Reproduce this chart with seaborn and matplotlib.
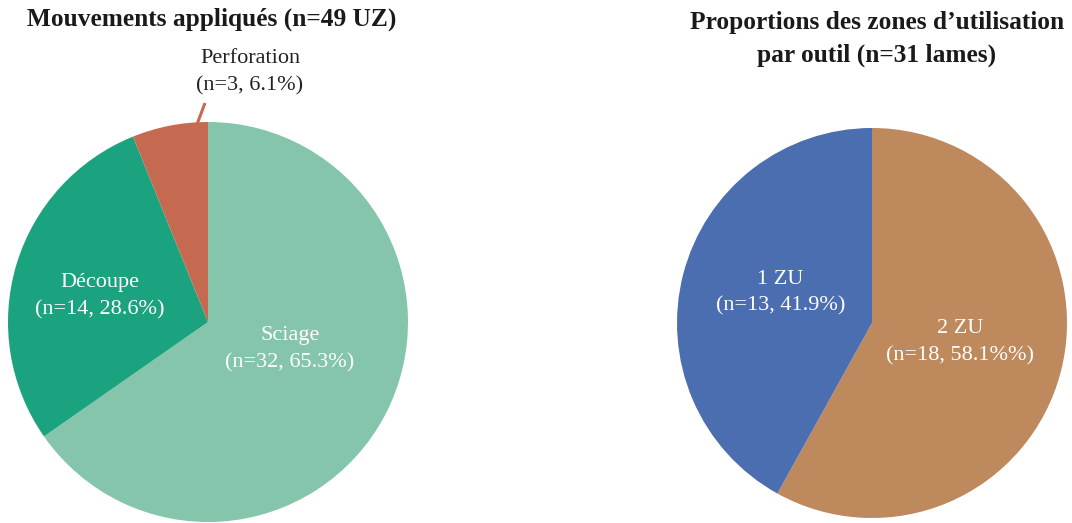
import matplotlib
matplotlib.use("Agg")
import matplotlib.pyplot as plt
import seaborn as sns

# Data
mouvements = ["Sciage", "Découpe", "Perforation"]
mouvements_n = [32, 14, 3]
mouvements_pct = [65.3, 28.6, 6.1]
mouvements_colors = ["#84C5AC", "#1BA27F", "#C56A51"]

zones = ["2 ZU", "1 ZU"]
zones_n = [18, 13]
zones_pct = [58.1, 41.9]
zones_colors = ["#BE895D", "#4A6EB0"]

sns.set_theme(style="white")
plt.rcParams["font.family"] = ["Liberation Serif", "DejaVu Serif"]

W, H = 1072, 523
fig = plt.figure(figsize=(W / 100, H / 100), dpi=100)
fig.patch.set_facecolor("white")

# Left pie: center (208, 322) px, radius 200 px
ax1 = fig.add_axes([8 / W, 1 / H, 400 / W, 400 / H])
ax1.pie(mouvements_n, colors=mouvements_colors, startangle=90,
        counterclock=False, radius=1,
        wedgeprops=dict(linewidth=0))
ax1.set_xlim(-1, 1)
ax1.set_ylim(-1, 1)
ax1.set_aspect("equal")
ax1.axis("off")

lab_kw = dict(ha="center", va="center", fontsize=16, linespacing=1.55)
ax1.text(-0.54, 0.13, f"{mouvements[1]}\n(n={mouvements_n[1]}, {mouvements_pct[1]}%)",
         color="white", **lab_kw)
ax1.text(0.41, -0.135, f"{mouvements[0]}\n(n={mouvements_n[0]}, {mouvements_pct[0]}%)",
         color="white", **lab_kw)
ax1.text(0.21, 1.25, f"{mouvements[2]}\n(n={mouvements_n[2]}, {mouvements_pct[2]}%)",
         color="#222222", clip_on=False, **lab_kw)
ax1.plot([-0.06, -0.015], [0.975, 1.095], color=mouvements_colors[2],
         lw=2.2, solid_capstyle="butt", clip_on=False)

fig.text(212 / W, 1 - 19 / H, "Mouvements appliqués (n=49 UZ)",
         ha="center", va="center", fontsize=18.3, fontweight="bold", color="#1a1a1a")

# Right pie: center (872, 323) px, radius 195 px
ax2 = fig.add_axes([677 / W, 5 / H, 390 / W, 390 / H])
ax2.pie(zones_n, colors=zones_colors, startangle=90, counterclock=False,
        radius=1, wedgeprops=dict(linewidth=0))
ax2.set_xlim(-1, 1)
ax2.set_ylim(-1, 1)
ax2.set_aspect("equal")
ax2.axis("off")

ax2.text(-0.47, 0.155, f"{zones[1]}\n(n={zones_n[1]}, {zones_pct[1]}%)",
         color="white", **lab_kw)
ax2.text(0.45, -0.1, f"{zones[0]}\n(n={zones_n[0]}, {zones_pct[0]}%%)",
         color="white", **lab_kw)

fig.text(877 / W, 1 - 39 / H, "Proportions des zones d’utilisation\npar outil (n=31 lames)",
         ha="center", va="center", fontsize=18.3, fontweight="bold",
         color="#1a1a1a", linespacing=1.55)

fig.savefig("out.png", dpi=100, facecolor="white")
